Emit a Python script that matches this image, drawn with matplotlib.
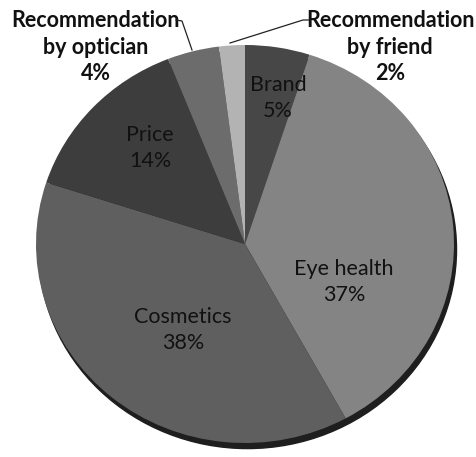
import numpy as np
import matplotlib
matplotlib.use("Agg")
import matplotlib.pyplot as plt
from matplotlib.patches import Ellipse

# Motivos de compra (porcentaje de respuestas)
categorias = ["Brand", "Eye health", "Cosmetics", "Price",
              "Recommendation\nby optician", "Recommendation\nby friend"]
porcentajes = [5, 37, 38, 14, 4, 2]
colores = ["#474747", "#848484", "#5f5f5f", "#3d3d3d", "#6c6c6c", "#b3b3b3"]

W, H = 476, 457
cx, cy = 245, 244      # centro del pastel en pixeles
rx, ry = 209, 199      # radios horizontal y vertical


def px(x, y):
    """Convierte pixeles (origen arriba a la izquierda) a coordenadas de datos."""
    return (x - cx) / rx, (cy - y) / ry


plt.rcParams["font.family"] = ["Lato", "DejaVu Sans"]

fig = plt.figure(figsize=(W / 100, H / 100), dpi=100)
ax = fig.add_axes([0, 0, 1, 1])

# sombra bajo el pastel
sombra = Ellipse((0.012, -0.028), 2, 2, color="#1e1e1e", zorder=0)
ax.add_patch(sombra)

wedges, _ = ax.pie(porcentajes, colors=colores, startangle=90, counterclock=False,
                   radius=1, wedgeprops=dict(linewidth=0))
for w in wedges:
    w.set_zorder(1)

ax.set_aspect("auto")
ax.set_xlim(-cx / rx, (W - cx) / rx)
ax.set_ylim(-(H - cy) / ry, cy / ry)
ax.axis("off")

# etiquetas interiores
internas = {
    "Brand": (278, 98),
    "Eye health": (344, 282),
    "Cosmetics": (183, 330),
    "Price": (150, 148),
}
for nombre, (x, y) in internas.items():
    i = categorias.index(nombre)
    ax.text(*px(x, y), f"{nombre}\n{porcentajes[i]}%", ha="center", va="center",
            fontsize=15.5, color="#111111", linespacing=1.32, zorder=3)

# etiquetas exteriores con lineas guia
externas = [(4, (96, 47)), (5, (390, 47))]
for i, (x, y) in externas:
    ax.text(*px(x, y), f"{categorias[i]}\n{porcentajes[i]}%", ha="center", va="center",
            fontsize=15.5, fontweight="bold", color="#111111", linespacing=1.3, zorder=3)

guia_optico = [px(176, 20), px(182, 21), px(192, 50)]
guia_amigo = [px(230, 43), px(303, 20), px(309, 20)]
for guia in (guia_optico, guia_amigo):
    xs, ys = zip(*guia)
    ax.plot(xs, ys, color="#222222", linewidth=0.9, zorder=3)

fig.savefig("out.png", dpi=100)
